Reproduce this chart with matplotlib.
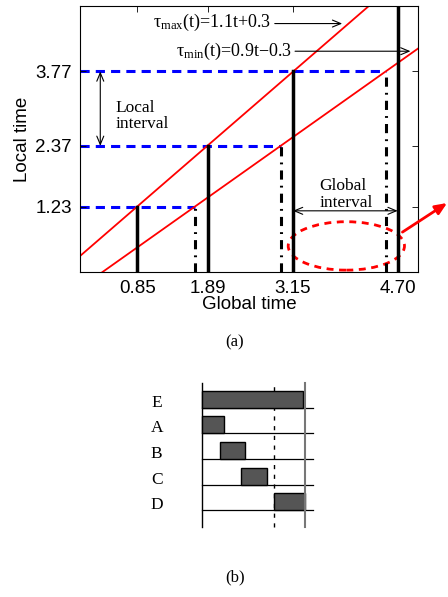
import matplotlib
matplotlib.use('Agg')
import matplotlib.pyplot as plt
from matplotlib.patches import Ellipse

plt.rcParams['font.family'] = ['Liberation Sans', 'DejaVu Sans']
plt.rcParams['mathtext.fontset'] = 'custom'
plt.rcParams['mathtext.rm'] = 'Liberation Serif'
plt.rcParams['mathtext.it'] = 'Liberation Serif'

# clock bounds: tau(t) = slope * t + offset
max_slope, max_offset = 1.1, 0.3
min_slope, min_offset = 0.9, -0.3
global_ticks = [0.85, 1.89, 3.15, 4.70]
local_ticks = [1.23, 2.37, 3.77]

# panel (b): tasks
task_names = ['E', 'A', 'B', 'C', 'D']
task_start = [0.0, 0.0, 1.7, 3.75, 7.0]
task_end = [9.85, 2.15, 4.15, 6.35, 10.0]
cut_time = 7.0
end_time = 10.0

serif = ['Liberation Serif', 'DejaVu Serif']

fig = plt.figure(figsize=(4.48, 5.97), dpi=100)
W, H = 448.0, 597.0

# ---------- (a) ----------
ax = fig.add_axes([80 / W, 1 - 272 / H, 338 / W, 266 / H])
ax.set_xlim(0, 5)
ax.set_ylim(0, 5)

t = [0, 5]
ax.plot(t, [max_slope * v + max_offset for v in t], color='red', lw=1.3)
ax.plot(t, [min_slope * v + min_offset for v in t], color='red', lw=1.3)

for gt, lt in zip(global_ticks[:3], local_ticks):
    tmin = (lt - min_offset) / min_slope
    ax.plot([0, tmin], [lt, lt], color='blue', lw=2.2, ls=(0, (3, 2)), zorder=1)
    ax.plot([gt, gt], [0, lt], color='black', lw=2.5)
    ax.plot([tmin, tmin], [0, lt], color='black', lw=2.2, ls=(0, (3, 2, 0.6, 2)))
ax.plot([global_ticks[3]] * 2, [0, 5], color='black', lw=2.5)

ax.set_xticks(global_ticks)
ax.set_xticklabels(['%.2f' % v for v in global_ticks])
ax.set_yticks(local_ticks)
ax.tick_params(direction='in', labelsize=13.5, right=True, top=True, length=4, width=0.6, pad=6)
ax.set_xlabel('Global time', fontsize=13.5, labelpad=-1)
ax.set_ylabel('Local time', fontsize=13.5, labelpad=3)

ax.text(1.08, 4.60, r'$\mathrm{\tau_{max}}$(t)=1.1t+0.3', family=serif, fontsize=13, va='baseline')
ax.annotate('', xy=(3.92, 4.67), xytext=(2.84, 4.67),
            arrowprops=dict(arrowstyle='->,head_length=0.6,head_width=0.25', lw=0.8))
ax.text(1.42, 4.07, r'$\mathrm{\tau_{min}}$(t)=0.9t$-$0.3', family=serif, fontsize=13, va='baseline')
ax.annotate('', xy=(4.93, 4.15), xytext=(3.14, 4.15),
            arrowprops=dict(arrowstyle='->,head_length=0.6,head_width=0.25', lw=0.8))

ax.annotate('', xy=(0.30, 3.77), xytext=(0.30, 2.37),
            arrowprops=dict(arrowstyle='<->,head_length=0.6,head_width=0.25', lw=0.8, shrinkA=0, shrinkB=0))
ax.text(0.53, 2.93, 'Local\ninterval', family=serif, fontsize=12.5, va='center', linespacing=1.05)
ax.annotate('', xy=(3.15, 1.15), xytext=(4.70, 1.15),
            arrowprops=dict(arrowstyle='<->,head_length=0.6,head_width=0.25', lw=0.8, shrinkA=0, shrinkB=0))
ax.text(3.54, 1.46, 'Global\ninterval', family=serif, fontsize=12.5, va='center', linespacing=1.05)

ax.add_patch(Ellipse((3.94, 0.49), 1.72, 0.91, fill=False, ec='red', lw=2, ls=(0, (2.5, 2)), clip_on=False))
ax.annotate('', xy=(0.998, 1 - 203 / H), xycoords='figure fraction', xytext=(4.77, 0.75),
            textcoords='data', annotation_clip=False,
            arrowprops=dict(arrowstyle='-|>,head_length=0.7,head_width=0.3', color='red', lw=2, shrinkA=0, shrinkB=0))

fig.text(235 / W, 1 - 342 / H, '(a)', family=serif, fontsize=12, ha='center', va='center')

# ---------- (b) ----------
bx = fig.add_axes([130 / W, 1 - 535 / H, 200 / W, 160 / H])
bx.set_xlim((130 - 202) / 10.3, (330 - 202) / 10.3)
bx.set_ylim((510.3 - 535) / 25.65, (510.3 - 375) / 25.65)
bx.axis('off')

n = len(task_names)
for i, (name, s, e) in enumerate(zip(task_names, task_start, task_end)):
    row = n - 1 - i
    bx.plot([0, 10.8], [row, row], color='black', lw=0.9)
    bx.bar(s, 0.66, width=e - s, bottom=row, align='edge', color='#555555', edgecolor='black', lw=1, zorder=3)
    bx.text(-4.4, row + 0.2, name, family=serif, fontsize=12.5, ha='center', va='center')

bx.plot([0, 0], [-0.64, 4.97], color='black', lw=1)
bx.plot([end_time, end_time], [-0.64, 4.97], color='#777777', lw=1.5, zorder=4)
bx.plot([cut_time, cut_time], [-0.64, 4.97], color='black', lw=1, ls=(0, (3, 4)), zorder=2)

fig.text(235 / W, 1 - 577 / H, '(b)', family=serif, fontsize=12, ha='center', va='center')

fig.savefig('out.png', dpi=100)
